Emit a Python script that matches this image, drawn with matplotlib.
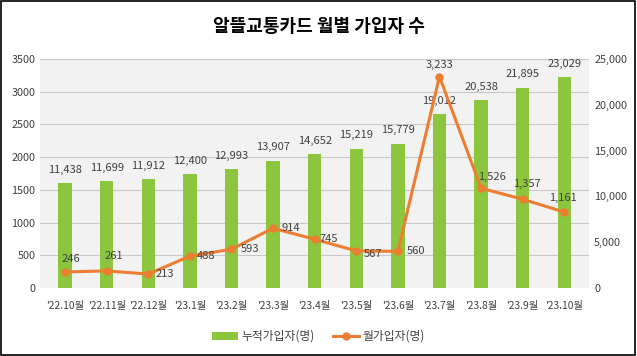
import numpy as np
import matplotlib.pyplot as plt
from matplotlib.patches import Rectangle

plt.rcParams['font.family'] = ['Noto Sans CJK KR', 'DejaVu Sans']

months = ["'22.10월", "'22.11월", "'22.12월", "'23.1월", "'23.2월", "'23.3월", "'23.4월",
          "'23.5월", "'23.6월", "'23.7월", "'23.8월", "'23.9월", "'23.10월"]
total_users = [11438, 11699, 11912, 12400, 12993, 13907, 14652, 15219, 15779, 19012, 20538, 21895, 23029]
monthly_users = [246, 261, 213, 488, 593, 914, 745, 567, 560, 3233, 1526, 1357, 1161]

# label offsets (points) for the line labels
line_offsets = [(4, 9), (5, 11), (12, 0), (12, 0), (13, 0), (13, 0), (10, 0),
                (12, -2), (13, 0), (0, 8), (8, 8), (3, 11), (-1, 10)]

bar_color = '#8cc63f'
line_color = '#ed7d31'
txt_color = '#404040'

fig = plt.figure(figsize=(6.37, 3.56), dpi=100)
fig.patches.append(Rectangle((0.002, 0.003), 0.995, 0.994, transform=fig.transFigure,
                             fill=False, edgecolor='black', linewidth=1.2))

ax = fig.add_axes([0.063, 0.191, 0.862, 0.643])
ax2 = ax.twinx()
ax.set_zorder(ax2.get_zorder() + 1)
ax.patch.set_visible(False)
ax2.patch.set_visible(True)
ax2.patch.set_facecolor('#f2f2f2')

x = np.arange(len(months))

# bars on the right axis
ax2.bar(x, total_users, width=0.32, color=bar_color, zorder=2, label='누적가입자(명)')
ax2.set_ylim(0, 25000)
ax2.set_yticks(np.arange(0, 25001, 5000))
ax2.set_yticklabels([f'{v:,}' for v in range(0, 25001, 5000)])
for xi, v in zip(x, total_users):
    ax2.annotate(f'{v:,}', (xi, v), xytext=(0, 6), textcoords='offset points',
                 ha='center', va='bottom', fontsize=8, color=txt_color)

# line on the left axis
ax.plot(x, monthly_users, color=line_color, linewidth=2.2, marker='o', markersize=5,
        zorder=3, label='월가입자(명)')
ax.set_ylim(0, 3500)
ax.set_yticks(np.arange(0, 3501, 500))
for xi, v, off in zip(x, monthly_users, line_offsets):
    ax.annotate(f'{v:,}', (xi, v), xytext=off, textcoords='offset points',
                ha='center', va='center', fontsize=8, color=txt_color)

ax.set_xlim(-0.6, len(months) - 0.4)
ax.set_xticks(x)
ax.set_xticklabels(months)

# grid on the background axis
for g in np.arange(500, 3501, 500):
    ax2.axhline(g / 3500 * 25000, color='#c8c8c8', linewidth=0.8, zorder=1)

for a in (ax, ax2):
    for s in a.spines.values():
        s.set_visible(False)
    a.tick_params(length=0, labelsize=7.8, labelcolor=txt_color)
ax.tick_params(axis='x', pad=9, labelsize=7.4)
ax2.axhline(0, color='#d0d0d0', linewidth=0.8, zorder=1)

fig.text(0.5, 0.925, '알뜰교통카드 월별 가입자 수', ha='center', va='center',
         fontsize=13, fontweight='bold', color='black')

h1, l1 = ax2.get_legend_handles_labels()
h2, l2 = ax.get_legend_handles_labels()
fig.legend(h1 + h2, l1 + l2, loc='center', bbox_to_anchor=(0.5, 0.055), ncol=2,
           frameon=False, fontsize=8.5, labelcolor=txt_color, handlelength=2.2,
           handletextpad=0.3, columnspacing=1.5)

fig.savefig('out.png', dpi=100)
